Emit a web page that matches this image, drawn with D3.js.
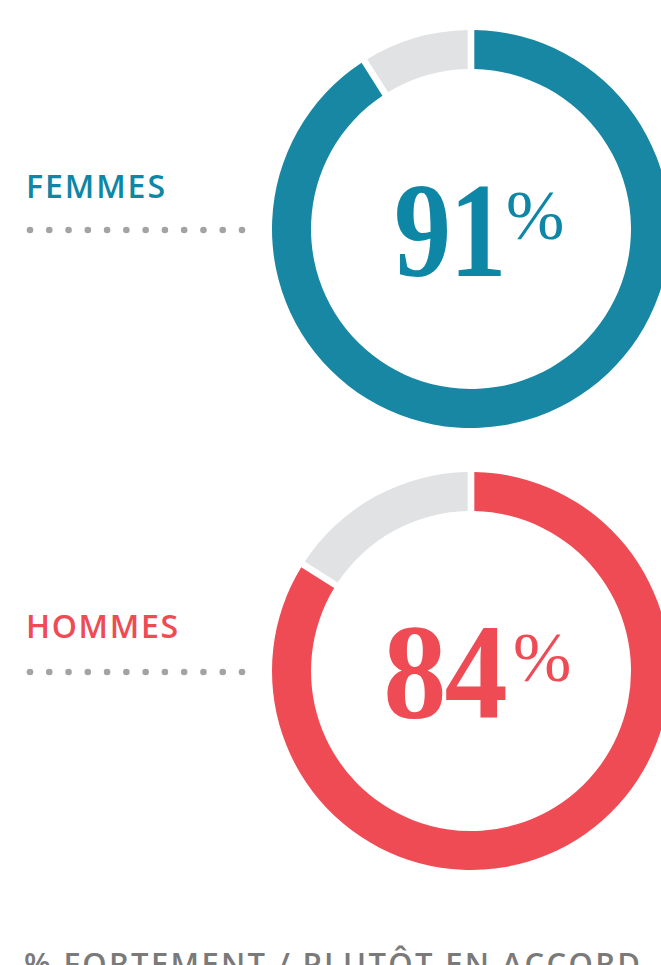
<!DOCTYPE html>
<html><head><meta charset="utf-8">
<script src="https://cdn.jsdelivr.net/npm/d3@7"></script>
<style>html,body{margin:0;padding:0;background:#fff;overflow:hidden}</style>
</head><body>
<svg id="c" width="661" height="965"></svg>
<script>
const categories = ["FEMMES", "HOMMES"];
const values = [91, 84];
const colors = ["#1787a3", "#ef4b55"];
const textColors = ["#0e86a5", "#ef4b55"];
const restColor = "#e1e2e4";
const footer = "% FORTEMENT / PLUTÔT EN ACCORD";

const svg = d3.select("#c");
const cx = 471, outerR = 199, innerR = 160;
const yScale = d3.scalePoint().domain(categories).range([229, 671]);
const pie = d3.pie().sort(null).value(d => d);
const arc = d3.arc().innerRadius(innerR).outerRadius(outerR).padAngle(0.026);
const dotX = d3.scaleLinear().domain([0, 11]).range([30, 242]);

categories.forEach((cat, i) => {
  const cy = yScale(cat);
  const g = svg.append("g").attr("transform", `translate(${cx},${cy})`);
  const arcs = pie([values[i], 100 - values[i]]);
  g.selectAll("path").data(arcs).join("path")
    .attr("d", arc)
    .attr("fill", (d, j) => j === 0 ? colors[i] : restColor);

  // number (the "1" is narrow in the original typeface, so 91 is condensed more)
  const numG = g.append("g");
  const num = numG.append("text")
    .attr("font-family", "Liberation Serif, Times New Roman, serif")
    .attr("font-weight", "bold")
    .attr("font-size", 136)
    .attr("letter-spacing", -2)
    .attr("fill", textColors[i])
    .attr("x", 0)
    .attr("y", 47)
    .text(values[i]);
  const bb = num.node().getBBox();
  const sx = i ? 0.93 : 0.84;
  const right = 34 + i;
  numG.attr("transform", `translate(${right - (bb.x + bb.width) * sx},0) scale(${sx},1)`);
  g.append("text")
    .attr("font-family", "Liberation Serif, Times New Roman, serif")
    .attr("font-size", 70)
    .attr("fill", textColors[i])
    .attr("x", 35 + i * 7)
    .attr("y", 10)
    .text("%");

  // label
  svg.append("text")
    .attr("font-family", "Open Sans, Lato, sans-serif")
    .attr("font-weight", 600)
    .attr("font-size", 32)
    .attr("fill", textColors[i])
    .attr("x", 26)
    .attr("y", cy - 31 + (i ? -2 : 0))
    .attr("textLength", i ? 152 : 139)
    .attr("lengthAdjust", "spacing")
    .text(cat);

  svg.append("g").selectAll("circle").data(d3.range(12)).join("circle")
    .attr("cx", d => dotX(d))
    .attr("cy", cy + 1)
    .attr("r", 3.3)
    .attr("fill", "#a3a3a3");
});

svg.append("text")
  .attr("font-family", "Open Sans, Lato, sans-serif")
  .attr("font-weight", 600)
  .attr("font-size", 31)
  .attr("fill", "#7a7a7a")
  .attr("x", 24)
  .attr("y", 975)
  .attr("textLength", 616)
  .attr("lengthAdjust", "spacing")
  .text(footer);
</script>
</body></html>
